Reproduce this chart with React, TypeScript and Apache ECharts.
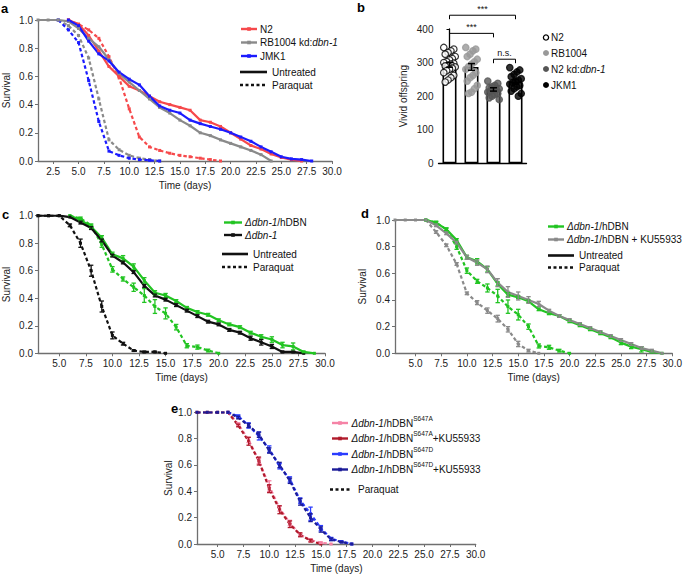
import React, { useEffect, useRef } from "react";
import * as echarts from "echarts";

const FONT = '"Liberation Sans", Arial, Helvetica, sans-serif';
const AXIS = "#6f6f6f";

// ---------------- Panel a (survival) ----------------
const aN2Days = [4, 5, 6, 7, 8, 9, 10, 11, 12, 13, 14, 15, 16, 17, 18, 19, 20, 21, 22, 23, 24, 25, 26, 27];
const aN2 = [1, 0.97, 0.89, 0.78, 0.67, 0.6, 0.53, 0.5, 0.46, 0.42, 0.4, 0.38, 0.36, 0.29, 0.275, 0.245, 0.2, 0.155, 0.11, 0.085, 0.05, 0.025, 0.01, 0];
const aRBDays = [1, 2, 3, 4, 5, 6, 7, 8, 9, 10, 11, 12, 13, 14, 15, 16, 17, 18, 19, 20, 21, 22, 23, 24];
const aRB = [1, 1, 1, 0.99, 0.94, 0.87, 0.81, 0.72, 0.62, 0.56, 0.5, 0.44, 0.38, 0.34, 0.29, 0.25, 0.2, 0.18, 0.15, 0.125, 0.1, 0.075, 0.045, 0];
const aJMKDays = [4, 5, 6, 7, 8, 9, 10, 11, 12, 13, 14, 15, 16, 17, 18, 19, 20, 21, 22, 23, 24, 25, 26, 27, 28];
const aJMK = [1, 0.96, 0.85, 0.76, 0.71, 0.63, 0.58, 0.54, 0.46, 0.39, 0.36, 0.34, 0.29, 0.265, 0.245, 0.225, 0.2, 0.17, 0.14, 0.1, 0.065, 0.03, 0.015, 0.01, 0];
const aN2PqDays = [4, 5, 6, 7, 8, 9, 10, 11, 12, 13, 14, 15, 16, 17, 18, 19];
const aN2Pq = [1, 0.97, 0.93, 0.87, 0.74, 0.59, 0.37, 0.17, 0.1, 0.075, 0.055, 0.04, 0.03, 0.02, 0.01, 0];
const aRBPqDays = [3, 4, 5, 6, 7, 8, 9, 10, 11, 12, 13];
const aRBPq = [1, 0.96, 0.89, 0.73, 0.44, 0.15, 0.08, 0.04, 0.02, 0.01, 0];
const aJMKPqDays = [3, 4, 5, 6, 7, 8, 9, 10, 11, 12, 13];
const aJMKPq = [1, 0.93, 0.84, 0.57, 0.28, 0.07, 0.04, 0.02, 0.01, 0.005, 0];
const aXTicks = [2.5, 5, 7.5, 10, 12.5, 15, 17.5, 20, 22.5, 25, 27.5, 30];

// ---------------- Panel b (offspring) ----------------
const bCategories = ["N2", "RB1004", "N2 kd:dbn-1", "JKM1"];
const bMeans = [293, 287, 220, 243];
const bSem = [7, 10, 5, 7];
const bN2Points = [345, 340, 335, 330, 325, 318, 312, 308, 303, 300, 298, 295, 292, 290, 287, 283, 280, 276, 270, 262, 255, 248, 242];
const bRBPoints = [345, 340, 335, 325, 318, 310, 302, 295, 288, 280, 270, 262, 255, 245, 232, 222, 212, 208];
const bKdPoints = [245, 238, 232, 228, 225, 222, 220, 218, 215, 212, 208, 205, 200, 195, 190];
const bJKMPoints = [285, 278, 272, 265, 258, 252, 248, 244, 240, 236, 232, 228, 222, 215, 208, 200];
const bBrackets = [
  [0, 3, 441],
  [0, 2, 387],
  [2, 3, 310],
];
const bBracketLabels = ["***", "***", "n.s."];

// ---------------- Panel c ----------------
const cHdbnDays = [6, 7, 8, 9, 10, 11, 12, 13, 14, 15, 16, 17, 18, 19, 20, 21, 22, 23, 24, 25, 26, 27, 28, 29];
const cHdbn = [1, 0.97, 0.92, 0.84, 0.72, 0.69, 0.63, 0.53, 0.44, 0.42, 0.38, 0.33, 0.3, 0.28, 0.24, 0.21, 0.19, 0.15, 0.12, 0.1, 0.06, 0.05, 0.01, 0];
const cHdbnErr = [0, 0.01, 0.01, 0.015, 0.015, 0.02, 0.02, 0.02, 0.015, 0.015, 0.01, 0.01, 0.01, 0.01, 0.01, 0.01, 0.01, 0.01, 0.015, 0.02, 0.02, 0.025, 0.005, 0];
const cDbnDays = [3, 4, 5, 6, 7, 8, 9, 10, 11, 12, 13, 14, 15, 16, 17, 18, 19, 20, 21, 22, 23, 24, 25, 26, 27, 28];
const cDbn = [1, 1, 1, 0.99, 0.95, 0.91, 0.82, 0.71, 0.66, 0.59, 0.49, 0.42, 0.39, 0.35, 0.31, 0.27, 0.23, 0.21, 0.17, 0.15, 0.11, 0.08, 0.05, 0.01, 0.01, 0];
const cDbnErr = [0, 0, 0, 0, 0.01, 0.01, 0.01, 0.01, 0.01, 0.01, 0.01, 0.01, 0.01, 0.01, 0.01, 0.01, 0.01, 0.01, 0.01, 0.01, 0.015, 0.02, 0.015, 0.005, 0.005, 0];
const cDbnPqDays = [3, 4, 5, 6, 7, 8, 9, 10, 11, 12, 13, 14, 15];
const cDbnPq = [1, 1, 1, 0.93, 0.8, 0.6, 0.34, 0.13, 0.07, 0.02, 0.01, 0.01, 0];
const cDbnPqErr = [0, 0, 0, 0.01, 0.03, 0.04, 0.04, 0.025, 0.01, 0.005, 0.005, 0.005, 0];
const cHdbnPqDays = [6, 7, 8, 9, 10, 11, 12, 13, 14, 15, 16, 17, 18, 19, 20];
const cHdbnPq = [1, 0.98, 0.93, 0.79, 0.61, 0.54, 0.48, 0.42, 0.34, 0.29, 0.19, 0.055, 0.045, 0.02, 0];
const cHdbnPqErr = [0, 0.01, 0.01, 0.02, 0.02, 0.015, 0.03, 0.05, 0.05, 0.04, 0.02, 0.015, 0.015, 0.01, 0];
const cdeXTicks = [5, 7.5, 10, 12.5, 15, 17.5, 20, 22.5, 25, 27.5, 30];

// ---------------- Panel d ----------------
const dHdbnDays = [6, 7, 8, 9, 10, 11, 12, 13, 14, 15, 16, 17, 18, 19, 20, 21, 22, 23, 24, 25, 26, 27, 28, 29];
const dHdbn = [1, 0.98, 0.93, 0.85, 0.72, 0.69, 0.63, 0.52, 0.44, 0.42, 0.39, 0.33, 0.3, 0.28, 0.24, 0.21, 0.18, 0.15, 0.12, 0.08, 0.05, 0.03, 0.01, 0];
const dHdbnErr = [0, 0.01, 0.01, 0.01, 0.015, 0.02, 0.02, 0.015, 0.015, 0.01, 0.01, 0.01, 0.01, 0.01, 0.01, 0.01, 0.01, 0.01, 0.01, 0.015, 0.015, 0.02, 0.005, 0];
const dKuDays = [3, 4, 5, 6, 7, 8, 9, 10, 11, 12, 13, 14, 15, 16, 17, 18, 19, 20, 21, 22, 23, 24, 25, 26, 27, 28, 29];
const dKu = [1, 1, 1, 1, 0.96, 0.9, 0.83, 0.72, 0.68, 0.63, 0.53, 0.46, 0.43, 0.4, 0.37, 0.32, 0.28, 0.25, 0.22, 0.19, 0.16, 0.13, 0.1, 0.07, 0.04, 0.02, 0];
const dKuErr = [0, 0, 0, 0, 0.01, 0.01, 0.01, 0.015, 0.02, 0.025, 0.03, 0.04, 0.03, 0.025, 0.02, 0.01, 0.01, 0.01, 0.01, 0.01, 0.01, 0.01, 0.01, 0.01, 0.01, 0.01, 0];
const dHdbnPqDays = [6, 7, 8, 9, 10, 11, 12, 13, 14, 15, 16, 17, 18, 19, 20];
const dHdbnPq = [1, 0.98, 0.93, 0.8, 0.62, 0.54, 0.49, 0.43, 0.35, 0.29, 0.2, 0.055, 0.045, 0.02, 0];
const dHdbnPqErr = [0, 0.01, 0.01, 0.02, 0.02, 0.015, 0.03, 0.05, 0.05, 0.04, 0.02, 0.015, 0.015, 0.01, 0];
const dKuPqDays = [6, 7, 8, 9, 10, 11, 12, 13, 14, 15, 16, 17];
const dKuPq = [1, 0.91, 0.81, 0.67, 0.45, 0.38, 0.32, 0.26, 0.18, 0.07, 0.02, 0];
const dKuPqErr = [0, 0.01, 0.01, 0.01, 0.01, 0.015, 0.02, 0.025, 0.02, 0.02, 0.01, 0];

// ---------------- Panel e ----------------
const eADays = [6, 7, 8, 9, 10, 11, 12, 13, 14, 15, 16];
const eA = [1, 0.91, 0.79, 0.63, 0.44, 0.27, 0.16, 0.07, 0.03, 0.01, 0];
const eAErr = [0, 0.01, 0.02, 0.02, 0.04, 0.02, 0.02, 0.01, 0.01, 0.005, 0];
const eAKuDays = [3, 4, 5, 6, 7, 8, 9, 10, 11, 12, 13, 14, 15];
const eAKu = [1, 1, 1, 1, 0.9, 0.78, 0.63, 0.42, 0.26, 0.15, 0.07, 0.025, 0];
const eAKuErr = [0, 0, 0, 0, 0.01, 0.03, 0.03, 0.03, 0.03, 0.025, 0.015, 0.01, 0];
const eDDays = [6, 7, 8, 9, 10, 11, 12, 13, 14, 15, 16, 17, 18];
const eD = [1, 0.97, 0.9, 0.82, 0.72, 0.59, 0.49, 0.33, 0.23, 0.12, 0.04, 0.018, 0];
const eDErr = [0, 0.01, 0.02, 0.03, 0.025, 0.02, 0.02, 0.02, 0.05, 0.02, 0.01, 0.005, 0];
const eDKuDays = [3, 4, 5, 6, 7, 8, 9, 10, 11, 12, 13, 14, 15, 16, 17, 18];
const eDKu = [1, 1, 1, 1, 0.96, 0.9, 0.83, 0.71, 0.6, 0.48, 0.32, 0.2, 0.11, 0.035, 0.015, 0];
const eDKuErr = [0, 0, 0, 0, 0.01, 0.015, 0.02, 0.02, 0.02, 0.02, 0.025, 0.03, 0.02, 0.01, 0.005, 0];

// ---------------- colours ----------------
const RED = "#f6494b";
const GRAY = "#8a8a8a";
const BLUE = "#1b1bff";
const GREEN = "#22c422";
const BLACK = "#111111";
const PINK = "#f583a6";
const DARKRED = "#b01a2b";
const BLUE2 = "#2a3cff";
const NAVY = "#1c1c98";

const zip = (d: number[], v: number[]) => d.map((x, i) => [x, v[i]]);
const zip3 = (d: number[], v: number[], e: number[]) => d.map((x, i) => [x, v[i], e[i]]);

const DASH = [3.5, 2.5];

function lineS(name: string, gi: number, days: number[], vals: number[], color: string, dashed: boolean) {
  return {
    type: "line",
    name,
    xAxisIndex: gi,
    yAxisIndex: gi,
    data: zip(days, vals),
    symbol: "rect",
    symbolSize: 3,
    showSymbol: true,
    lineStyle: { color, width: 2.2, type: dashed ? DASH : "solid" },
    itemStyle: { color },
    z: 3,
    silent: true,
  };
}

function errS(gi: number, days: number[], vals: number[], errs: number[], color: string) {
  return {
    type: "custom",
    xAxisIndex: gi,
    yAxisIndex: gi,
    data: zip3(days, vals, errs),
    encode: { x: 0, y: 1 },
    clip: false,
    z: 4,
    silent: true,
    renderItem: (params: any, api: any) => {
      const x = api.value(0);
      const y = api.value(1);
      const e = api.value(2);
      if (!e) return null;
      const t = api.coord([x, y + e]);
      const b = api.coord([x, Math.max(0, y - e)]);
      const hw = 2.2;
      const st = { stroke: color, lineWidth: 1.3 };
      return {
        type: "group",
        children: [
          { type: "line", shape: { x1: t[0], y1: t[1], x2: b[0], y2: b[1] }, style: st },
          { type: "line", shape: { x1: t[0] - hw, y1: t[1], x2: t[0] + hw, y2: t[1] }, style: st },
          { type: "line", shape: { x1: b[0] - hw, y1: b[1], x2: b[0] + hw, y2: b[1] }, style: st },
        ],
      };
    },
  };
}

const nameStyle = { fontSize: 10, color: "#222", fontFamily: FONT };

function survX(gi: number, min: number, ticks: number[]) {
  return {
    type: "value",
    gridIndex: gi,
    min,
    max: 30,
    axisLine: { show: true, onZero: false, lineStyle: { color: AXIS, width: 1.3 } },
    axisTick: { show: true, length: 3, customValues: ticks, lineStyle: { color: AXIS, width: 1 } },
    axisLabel: { customValues: ticks, formatter: (v: number) => v.toFixed(1), fontSize: 10, color: "#222", fontFamily: FONT, margin: 5 },
    splitLine: { show: false },
    name: "Time (days)",
    nameLocation: "middle",
    nameGap: 19,
    nameTextStyle: nameStyle,
  };
}

function survY(gi: number, gap: number) {
  return {
    type: "value",
    gridIndex: gi,
    min: 0,
    max: 1,
    interval: 0.2,
    axisLine: { show: true, onZero: false, lineStyle: { color: AXIS, width: 1.3 } },
    axisTick: { show: true, length: 3, lineStyle: { color: AXIS, width: 1 } },
    axisLabel: { formatter: (v: number) => v.toFixed(1), fontSize: 10, color: "#222", fontFamily: FONT, margin: 5 },
    splitLine: { show: false },
    name: "Survival",
    nameLocation: "middle",
    nameGap: gap,
    nameTextStyle: nameStyle,
  };
}

const RICH = {
  i: { fontStyle: "italic", fontSize: 10, fontFamily: FONT, fill: "#111" },
  sup: { fontSize: 6.5, fontFamily: FONT, verticalAlign: "top", lineHeight: 7, fill: "#111" },
};

function txt(x: number, y: number, text: string, extra: any = {}) {
  return {
    type: "text",
    x,
    y,
    silent: true,
    style: {
      text,
      fill: "#111",
      fontSize: 10,
      fontFamily: FONT,
      verticalAlign: "middle",
      align: "left",
      lineHeight: 17,
      rich: RICH,
      ...extra,
    },
  };
}

function legLine(x1: number, x2: number, y: number, color: string, dashed: boolean, marker: boolean, width = 2.4) {
  const els: any[] = [
    {
      type: "line",
      silent: true,
      shape: { x1, y1: y, x2, y2: y },
      style: { stroke: color, lineWidth: width, lineDash: dashed ? [3, 2.5] : null },
    },
  ];
  if (marker) {
    const cx = (x1 + x2) / 2;
    els.push({ type: "rect", silent: true, shape: { x: cx - 1.8, y: y - 1.8, width: 3.6, height: 3.6 }, style: { fill: color } });
  }
  return els;
}

function panelLabel(x: number, y: number, t: string) {
  return txt(x, y, t, { fontSize: 13, fontWeight: "bold", fill: "#000", lineHeight: 14 });
}

function jitter(i: number) {
  return (((i * 7) % 9) - 4) * 0.065;
}

function scatterB(gi: number, pts: number[], fill: string, stroke: string) {
  return {
    type: "scatter",
    xAxisIndex: 5,
    yAxisIndex: 1,
    data: pts.map((v, i) => [gi + jitter(i), v]),
    symbol: "circle",
    symbolSize: 6.5,
    itemStyle: { color: fill, borderColor: stroke, borderWidth: 1.2 },
    z: 3,
    silent: true,
  };
}

export default function App() {
  const ref = useRef<HTMLDivElement>(null);
  useEffect(() => {
    if (!ref.current) return;
    const chart = echarts.init(ref.current, undefined, { renderer: "svg" });

    const graphics: any[] = [
      panelLabel(1, 8, "a"),
      panelLabel(357, 7, "b"),
      panelLabel(2, 214, "c"),
      panelLabel(361, 213, "d"),
      panelLabel(171, 408, "e"),
      // legend a
      ...legLine(241, 257, 29, RED, false, true),
      txt(260, 29, "N2"),
      ...legLine(241, 257, 42.5, GRAY, false, true),
      txt(260, 42.5, "RB1004 kd:{i|dbn-1}"),
      ...legLine(241, 257, 56, BLUE, false, true),
      txt(260, 56, "JMK1"),
      ...legLine(240, 267, 72, BLACK, false, false, 2.6),
      txt(272, 72, "Untreated"),
      ...legLine(240, 267, 85, BLACK, true, false, 2.6),
      txt(272, 85, "Paraquat"),
      // legend b
      { type: "circle", silent: true, shape: { cx: 546, cy: 37.5, r: 2.6 }, style: { fill: "#fff", stroke: "#000", lineWidth: 1.3 } },
      txt(551, 37.5, "N2"),
      { type: "circle", silent: true, shape: { cx: 546, cy: 53, r: 3 }, style: { fill: "#999" } },
      txt(551, 53, "RB1004"),
      { type: "circle", silent: true, shape: { cx: 546, cy: 69, r: 3 }, style: { fill: "#555" } },
      txt(551, 69, "N2 kd:{i|dbn-1}"),
      { type: "circle", silent: true, shape: { cx: 546, cy: 85, r: 3 }, style: { fill: "#000" } },
      txt(551, 85, "JKM1"),
      // legend c
      ...legLine(224, 242, 222.5, GREEN, false, true),
      txt(245, 222.5, "{i|Δdbn-1}/hDBN"),
      ...legLine(224, 242, 235, BLACK, false, true),
      txt(245, 235, "{i|Δdbn-1}"),
      ...legLine(222, 248, 254, BLACK, false, false, 2.6),
      txt(253, 254, "Untreated"),
      ...legLine(222, 248, 267, BLACK, true, false, 2.6),
      txt(253, 267, "Paraquat"),
      // legend d
      ...legLine(548, 564, 226.5, GREEN, false, true),
      txt(567, 226.5, "{i|Δdbn-1}/hDBN"),
      ...legLine(548, 564, 239.5, GRAY, false, true),
      txt(567, 239.5, "{i|Δdbn-1}/hDBN + KU55933"),
      ...legLine(548, 574, 255.5, BLACK, false, false, 2.6),
      txt(579, 255.5, "Untreated"),
      ...legLine(548, 574, 267.5, BLACK, true, false, 2.6),
      txt(579, 267.5, "Paraquat"),
      // legend e
      ...legLine(332, 348, 423, PINK, false, true),
      txt(351.5, 423, "{i|Δdbn-1}/hDBN{sup|S647A}"),
      ...legLine(332, 348, 438.5, DARKRED, false, true),
      txt(351.5, 438.5, "{i|Δdbn-1}/hDBN{sup|S647A}+KU55933"),
      ...legLine(332, 348, 454, BLUE2, false, true),
      txt(351.5, 454, "{i|Δdbn-1}/hDBN{sup|S647D}"),
      ...legLine(332, 348, 469.5, NAVY, false, true),
      txt(351.5, 469.5, "{i|Δdbn-1}/hDBN{sup|S647D}+KU55933"),
      ...legLine(330, 352, 489.5, BLACK, true, false, 2.6),
      txt(358, 489.5, "Paraquat"),
    ];

    const option: any = {
      animation: false,
      backgroundColor: "#fff",
      textStyle: { fontFamily: FONT },
      grid: [
        { left: 35, top: 20, width: 297, height: 141 },
        { left: 438.5, top: 29, width: 88, height: 134.3 },
        { left: 35, top: 215.7, width: 290, height: 137.6 },
        { left: 395, top: 220, width: 281.7, height: 133.3 },
        { left: 197, top: 412.3, width: 278.7, height: 131.7 },
      ],
      xAxis: [
        survX(0, 1, aXTicks),
        {
          type: "category",
          gridIndex: 1,
          data: bCategories,
          axisLine: { show: true, lineStyle: { color: "#000", width: 1.3 } },
          axisTick: { show: false },
          axisLabel: { show: false },
        },
        survX(2, 3, cdeXTicks),
        survX(3, 3, cdeXTicks),
        survX(4, 3, cdeXTicks),
        { type: "value", gridIndex: 1, min: -0.5, max: 3.5, show: false },
      ],
      yAxis: [
        survY(0, 27),
        {
          type: "value",
          gridIndex: 1,
          min: 0,
          max: 400,
          interval: 100,
          axisLine: { show: true, lineStyle: { color: "#000", width: 1.3 } },
          axisTick: { show: true, length: 3, lineStyle: { color: "#000" } },
          axisLabel: { fontSize: 10, color: "#222", fontFamily: FONT, margin: 5 },
          splitLine: { show: false },
          name: "Vivid offspring",
          nameLocation: "middle",
          nameGap: 30,
          nameTextStyle: nameStyle,
        },
        survY(2, 27),
        survY(3, 28),
        survY(4, 24),
      ],
      graphic: { elements: graphics },
      series: [
        // panel a
        lineS("N2 paraquat", 0, aN2PqDays, aN2Pq, RED, true),
        lineS("RB1004 paraquat", 0, aRBPqDays, aRBPq, GRAY, true),
        lineS("JMK1 paraquat", 0, aJMKPqDays, aJMKPq, BLUE, true),
        lineS("N2", 0, aN2Days, aN2, RED, false),
        lineS("RB1004 kd:dbn-1", 0, aRBDays, aRB, GRAY, false),
        lineS("JMK1", 0, aJMKDays, aJMK, BLUE, false),
        // panel b
        {
          type: "bar",
          xAxisIndex: 1,
          yAxisIndex: 1,
          data: bMeans,
          barWidth: 14,
          itemStyle: { color: "#fff", borderColor: "#000", borderWidth: 1.6 },
          z: 2,
          silent: true,
        },
        scatterB(0, bN2Points, "#fff", "#000"),
        scatterB(1, bRBPoints, "#999", "#999"),
        scatterB(2, bKdPoints, "#555", "#555"),
        scatterB(3, bJKMPoints, "#000", "#000"),
        {
          type: "custom",
          xAxisIndex: 5,
          yAxisIndex: 1,
          data: bMeans.map((m, i) => [i, m, bSem[i]]),
          encode: { x: 0, y: 1 },
          clip: false,
          z: 5,
          silent: true,
          renderItem: (params: any, api: any) => {
            const x = api.value(0);
            const m = api.value(1);
            const e = api.value(2);
            const t = api.coord([x, m + e]);
            const b = api.coord([x, m - e]);
            const st = { stroke: "#000", lineWidth: 1.5 };
            return {
              type: "group",
              children: [
                { type: "line", shape: { x1: t[0], y1: t[1], x2: b[0], y2: b[1] }, style: st },
                { type: "line", shape: { x1: t[0] - 3.5, y1: t[1], x2: t[0] + 3.5, y2: t[1] }, style: st },
                { type: "line", shape: { x1: b[0] - 3.5, y1: b[1], x2: b[0] + 3.5, y2: b[1] }, style: st },
              ],
            };
          },
        },
        {
          type: "custom",
          xAxisIndex: 5,
          yAxisIndex: 1,
          data: bBrackets,
          encode: { x: [0, 1], y: 2 },
          clip: false,
          z: 5,
          silent: true,
          renderItem: (params: any, api: any) => {
            const p1 = api.coord([api.value(0), api.value(2)]);
            const p2 = api.coord([api.value(1), api.value(2)]);
            const drop = 4;
            const label = bBracketLabels[params.dataIndex];
            return {
              type: "group",
              children: [
                {
                  type: "polyline",
                  shape: { points: [[p1[0], p1[1] + drop], [p1[0], p1[1]], [p2[0], p2[1]], [p2[0], p2[1] + drop]] },
                  style: { stroke: "#000", lineWidth: 1, fill: null },
                },
                {
                  type: "text",
                  x: (p1[0] + p2[0]) / 2,
                  y: p1[1] - 2,
                  style: {
                    text: label,
                    fill: "#111",
                    fontSize: label === "n.s." ? 9 : 9,
                    fontFamily: FONT,
                    align: "center",
                    verticalAlign: "bottom",
                  },
                },
              ],
            };
          },
        },
        // panel c
        lineS("dbn-1 paraquat", 2, cDbnPqDays, cDbnPq, BLACK, true),
        lineS("hDBN paraquat", 2, cHdbnPqDays, cHdbnPq, GREEN, true),
        lineS("hDBN", 2, cHdbnDays, cHdbn, GREEN, false),
        lineS("dbn-1", 2, cDbnDays, cDbn, BLACK, false),
        errS(2, cDbnPqDays, cDbnPq, cDbnPqErr, BLACK),
        errS(2, cHdbnPqDays, cHdbnPq, cHdbnPqErr, GREEN),
        errS(2, cHdbnDays, cHdbn, cHdbnErr, GREEN),
        errS(2, cDbnDays, cDbn, cDbnErr, BLACK),
        // panel d
        lineS("hDBN+KU paraquat", 3, dKuPqDays, dKuPq, GRAY, true),
        lineS("hDBN paraquat d", 3, dHdbnPqDays, dHdbnPq, GREEN, true),
        lineS("hDBN d", 3, dHdbnDays, dHdbn, GREEN, false),
        lineS("hDBN+KU", 3, dKuDays, dKu, GRAY, false),
        errS(3, dKuPqDays, dKuPq, dKuPqErr, GRAY),
        errS(3, dHdbnPqDays, dHdbnPq, dHdbnPqErr, GREEN),
        errS(3, dHdbnDays, dHdbn, dHdbnErr, GREEN),
        errS(3, dKuDays, dKu, dKuErr, GRAY),
        // panel e
        lineS("S647A", 4, eADays, eA, PINK, true),
        lineS("S647A+KU", 4, eAKuDays, eAKu, DARKRED, true),
        lineS("S647D", 4, eDDays, eD, BLUE2, true),
        lineS("S647D+KU", 4, eDKuDays, eDKu, NAVY, true),
        errS(4, eADays, eA, eAErr, PINK),
        errS(4, eAKuDays, eAKu, eAKuErr, DARKRED),
        errS(4, eDDays, eD, eDErr, BLUE2),
        errS(4, eDKuDays, eDKu, eDKuErr, NAVY),
      ],
    };
    chart.setOption(option);
    return () => chart.dispose();
  }, []);

  return (
    <div
      ref={ref}
      style={{ position: "fixed", left: 0, top: 0, width: 685, height: 576, background: "#fff" }}
    />
  );
}
